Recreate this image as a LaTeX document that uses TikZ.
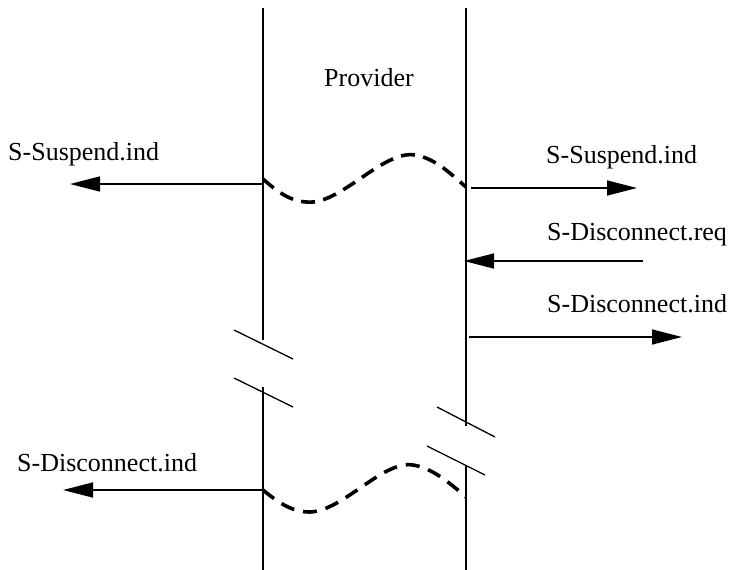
\documentclass[tikz,border=0pt]{standalone}
\usepackage{fontspec}
\setmainfont{Liberation Serif}
\usetikzlibrary{arrows.meta}
\tikzset{
  lbl/.style={anchor=base west, inner sep=0pt, font=\fontsize{26}{30}\selectfont},
  life/.style={line width=1.6pt},
  brk/.style={line width=1.3pt},
  msg/.style={line width=1.5pt, -{Triangle[length=30pt,width=15pt]}},
  wave/.style={line width=3.6pt, dash pattern=on 14pt off 9pt}
}
\begin{document}
\begin{tikzpicture}[x=1pt,y=1pt]
\useasboundingbox (0,0) rectangle (731,-570);
% lifelines
\coordinate (LT) at (263,-8);
\coordinate (LB1) at (263,-340);
\coordinate (LB2) at (263,-387);
\coordinate (LE) at (263,-570);
\coordinate (RT) at (466,-8);
\coordinate (RB1) at (466,-426);
\coordinate (RB2) at (466,-465);
\coordinate (RE) at (466,-570);
\draw[life] (LT) -- (LB1);
\draw[life] (LB2) -- (LE);
\draw[life] (RT) -- (RB1);
\draw[life] (RB2) -- (RE);
% break marks
\coordinate (b1a) at (234,-330); \coordinate (b1b) at (293,-359);
\coordinate (b2a) at (234,-378); \coordinate (b2b) at (293,-407);
\coordinate (b3a) at (437,-407); \coordinate (b3b) at (495,-437);
\coordinate (b4a) at (427,-446); \coordinate (b4b) at (485,-475);
\draw[brk] (b1a) -- (b1b);
\draw[brk] (b2a) -- (b2b);
\draw[brk] (b3a) -- (b3b);
\draw[brk] (b4a) -- (b4b);
% provider label
\node[lbl] (prov) at (324,-86) {Provider};
% top wave
\coordinate (w1s) at (263,-179);
\coordinate (w1e) at (466,-187);
\draw[wave, dash pattern=on 14pt off 8.4pt] (w1s) .. controls (283,-197) and (296,-203) .. (313,-202)
  .. controls (345,-199) and (385,-150) .. (415,-155)
  .. controls (435,-158) and (452,-175) .. (w1e);
% bottom wave
\coordinate (w2s) at (263,-490);
\coordinate (w2e) at (466,-497);
\draw[wave] (w2s) .. controls (281,-505) and (294,-512) .. (310,-512)
  .. controls (343,-511) and (383,-460) .. (413,-465)
  .. controls (433,-468) and (452,-485) .. (w2e);
% messages
\coordinate (m1s) at (263,-184); \coordinate (m1e) at (70,-184);
\draw[msg] (m1s) -- (m1e);
\node[lbl] (t1) at (8,-160) {S-Suspend.ind};
\coordinate (m2s) at (471,-188); \coordinate (m2e) at (637,-188);
\draw[msg] (m2s) -- (m2e);
\node[lbl] (t2) at (546,-163) {S-Suspend.ind};
\coordinate (m3s) at (643,-261); \coordinate (m3e) at (464,-261);
\draw[msg] (m3s) -- (m3e);
\node[lbl] (t3) at (547,-240) {S-Disconnect.req};
\coordinate (m4s) at (469,-337); \coordinate (m4e) at (682,-337);
\draw[msg] (m4s) -- (m4e);
\node[lbl] (t4) at (547,-312) {S-Disconnect.ind};
\coordinate (m5s) at (263,-490); \coordinate (m5e) at (63,-490);
\draw[msg] (m5s) -- (m5e);
\node[lbl] (t5) at (17,-471) {S-Disconnect.ind};
\end{tikzpicture}
\end{document}
